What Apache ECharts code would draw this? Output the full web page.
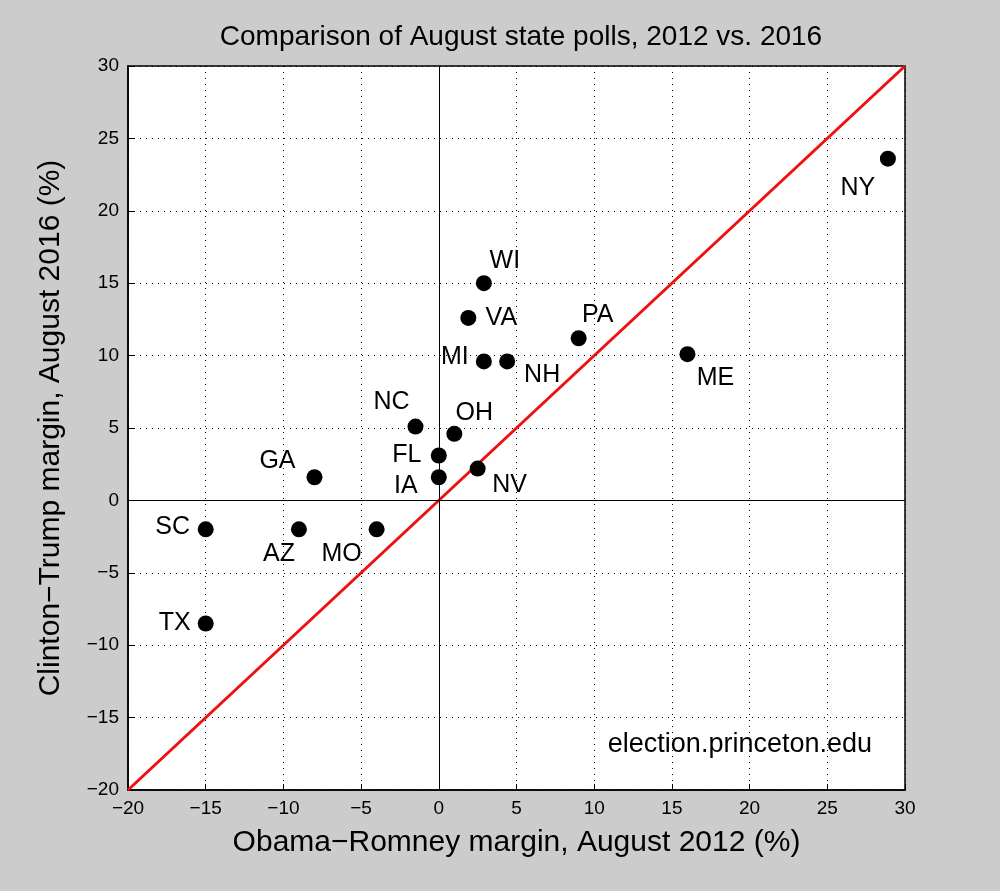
<!DOCTYPE html>
<html>
<head>
<meta charset="utf-8">
<title>August state polls 2012 vs 2016</title>
<script src="https://cdn.jsdelivr.net/npm/echarts@6/dist/echarts.min.js"></script>
<style>
html,body{margin:0;padding:0;background:#cccccc;}
#main{width:1000px;height:891px;}
</style>
</head>
<body>
<div id="main"></div>
<script>
// data
var states = ['NY','WI','VA','PA','MI','NH','ME','NC','OH','FL','IA','NV','GA','SC','AZ','MO','TX'];
var margin2012 = [28.9, 2.9, 1.9, 9.0, 2.9, 4.4, 16.0, -1.5, 1.0, 0.0, 0.0, 2.5, -8.0, -15.0, -9.0, -4.0, -15.0];
var margin2016 = [23.6, 15.0, 12.6, 11.2, 9.6, 9.6, 10.1, 5.1, 4.6, 3.1, 1.6, 2.2, 1.6, -2.0, -2.0, -2.0, -8.5];
var diagonal = [[-20, -20], [30, 30]];

// label offsets in pixels (style, kept apart from the data)
var labelOffset = {
  NY:[-30,29], WI:[21,-22], VA:[33,0], PA:[19,-23], MI:[-29,-4], NH:[35,14],
  ME:[28,24], NC:[-24,-24], OH:[20,-21], FL:[-32,0], IA:[-33,9], NV:[32,17],
  GA:[-37,-16], SC:[-33,-2], AZ:[-20,25], MO:[-35,25], TX:[-31,0]
};

var points = states.map(function (s, i) {
  return {
    name: s,
    value: [margin2012[i], margin2016[i]],
    label: { show: true, position: 'inside', offset: labelOffset[s], formatter: s }
  };
});

var chart = echarts.init(document.getElementById('main'));
var font = 'Liberation Sans, Arial, sans-serif';
var minus = function (v) { return String(v).replace('-', '\u2212'); };
var axisCommon = {
  axisLine: { onZero: false, lineStyle: { color: '#000', width: 1.5 } },
  axisTick: { inside: true, length: 6, lineStyle: { color: '#000' } },
  axisLabel: { color: '#000', fontSize: 19, fontFamily: font, margin: 9, formatter: minus },
  splitLine: { show: true, lineStyle: { color: '#000', type: [1, 5], width: 1 } },
  nameLocation: 'middle',
  nameTextStyle: { color: '#000', fontSize: 30, fontFamily: font }
};

chart.setOption({
  backgroundColor: '#cccccc',
  animation: false,
  title: {
    text: 'Comparison of August state polls, 2012 vs. 2016',
    left: 516, top: 18, textAlign: 'center',
    textStyle: { color: '#000', fontSize: 28, fontWeight: 'normal', fontFamily: font }
  },
  grid: {
    left: 128, right: 95, top: 66, bottom: 101,
    show: true, backgroundColor: '#fff', borderColor: '#000', borderWidth: 1.5
  },
  xAxis: Object.assign({}, axisCommon, {
    type: 'value', min: -20, max: 30, interval: 5,
    name: 'Obama\u2212Romney margin, August 2012 (%)', nameGap: 38
  }),
  yAxis: Object.assign({}, axisCommon, {
    type: 'value', min: -20, max: 30, interval: 5,
    name: 'Clinton\u2212Trump margin, August 2016 (%)', nameGap: 62
  }),
  graphic: [{
    type: 'text', right: 128, top: 731,
    style: { text: 'election.princeton.edu', fill: '#000', fontSize: 27, fontFamily: font }
  }],
  series: [
    {
      type: 'line', data: diagonal, symbol: 'none', silent: true,
      lineStyle: { color: '#ee1111', width: 3 },
      markLine: {
        silent: true, symbol: 'none', label: { show: false },
        lineStyle: { color: '#000', width: 1, type: 'solid' },
        data: [{ xAxis: 0 }, { yAxis: 0 }]
      },
      z: 3
    },
    {
      type: 'scatter', data: points, symbolSize: 16,
      itemStyle: { color: '#000', opacity: 1 },
      label: { color: '#000', fontSize: 25, fontFamily: font },
      z: 4
    }
  ]
});
</script>
</body>
</html>
